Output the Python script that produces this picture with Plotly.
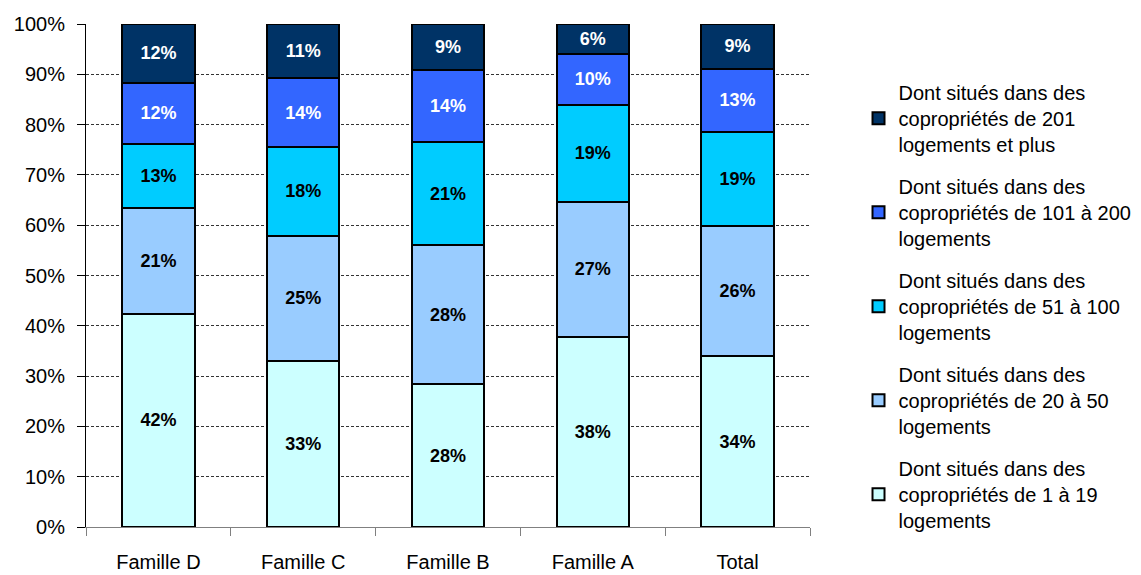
"""Stacked 100% bar chart: logements by copropriété size, per famille."""

import plotly.graph_objects as go

categories = ["Famille D", "Famille C", "Famille B", "Famille A", "Total"]

# shares in %, bottom segment first
share_1_19 = [42.4, 33.0, 28.4, 37.7, 33.9]
share_20_50 = [21.0, 24.9, 27.6, 27.0, 26.0]
share_51_100 = [12.8, 17.6, 20.6, 19.2, 18.6]
share_101_200 = [12.1, 13.8, 14.2, 10.2, 12.6]
share_201_plus = [11.7, 10.7, 9.2, 5.9, 8.9]

series_names = [
    "Dont situés dans des<br>copropriétés de 1 à 19<br>logements",
    "Dont situés dans des<br>copropriétés de 20 à 50<br>logements",
    "Dont situés dans des<br>copropriétés de 51 à 100<br>logements",
    "Dont situés dans des<br>copropriétés de 101 à 200<br>logements",
    "Dont situés dans des<br>copropriétés de 201<br>logements et plus",
]
series_values = [share_1_19, share_20_50, share_51_100, share_101_200, share_201_plus]
series_colors = ["#CCFFFF", "#99CCFF", "#00CCFF", "#3366FF", "#003366"]
label_colors = ["black", "black", "black", "white", "white"]

FONT = "Liberation Sans, Arial, sans-serif"

fig = go.Figure()
for i, (name, values) in enumerate(zip(series_names, series_values)):
    fig.add_trace(go.Bar(
        x=categories,
        y=values,
        name=name,
        legendgroup=f"g{i}",
        legendrank=10 - i,
        marker=dict(color=series_colors[i], line=dict(color="black", width=2)),
        texttemplate="%{y:.0f}%",
        textposition="inside",
        insidetextanchor="middle",
        textangle=0,
        textfont=dict(family=FONT, size=18, color=label_colors[i], weight="bold"),
        hoverinfo="skip",
    ))

fig.update_layout(
    barmode="stack",
    bargap=0.5,
    width=1141,
    height=575,
    margin=dict(l=78, r=337, t=16, b=56),
    plot_bgcolor="white",
    paper_bgcolor="white",
    font=dict(family=FONT, size=20, color="black"),
    showlegend=True,
    legend=dict(
        x=1.067, y=0.903, xanchor="left", yanchor="top",
        traceorder="grouped",
        tracegroupgap=13,
        font=dict(family=FONT, size=20, color="black"),
        bgcolor="rgba(0,0,0,0)",
    ),
    uniformtext=dict(minsize=12, mode="show"),
)
fig.update_xaxes(
    showline=True, linecolor="#808080", linewidth=1,
    ticks="outside", tickson="boundaries", ticklen=8, tickcolor="#808080",
    tickfont=dict(size=20), ticklabelstandoff=17,
    showgrid=False, automargin=False,
)
fig.update_yaxes(
    range=[0, 100], dtick=10, ticksuffix="%",
    showline=True, linecolor="black", linewidth=1,
    ticks="outside", ticklen=8, tickcolor="black",
    showgrid=True, gridcolor="#333333", gridwidth=1, griddash="3px,2px",
    zeroline=False, tickfont=dict(size=20), ticklabelstandoff=8,
    automargin=False,
)

fig.write_html("out.html")
